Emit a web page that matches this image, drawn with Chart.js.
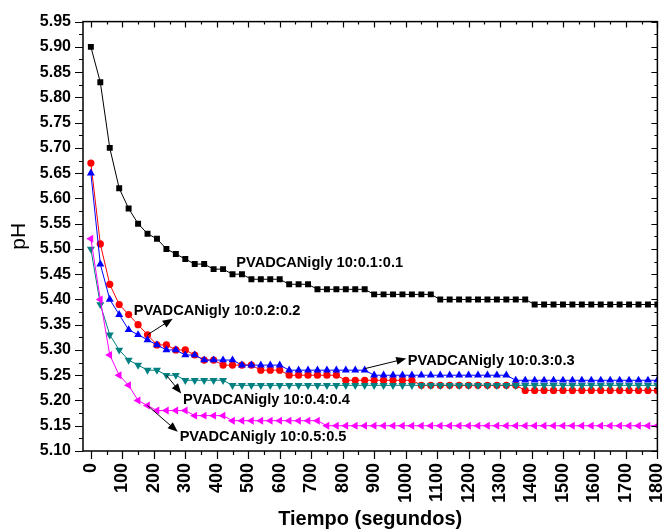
<!DOCTYPE html>
<html>
<head>
<meta charset="utf-8">
<script src="https://cdn.jsdelivr.net/npm/chart.js@4.4.1/dist/chart.umd.min.js"></script>
<style>
  html, body { margin: 0; padding: 0; background: #fff; }
  #wrap { width: 662px; height: 531px; }
</style>
</head>
<body>
<div id="wrap"><canvas id="chart" width="662" height="531"></canvas></div>
<script>
// time axis (seconds), one reading every 30 s
const times = [0, 30, 60, 90, 120, 150, 180, 210, 240, 270, 300, 330, 360, 390, 420, 450, 480, 510, 540, 570,
  600, 630, 660, 690, 720, 750, 780, 810, 840, 870, 900, 930, 960, 990, 1020, 1050, 1080, 1110, 1140, 1170,
  1200, 1230, 1260, 1290, 1320, 1350, 1380, 1410, 1440, 1470, 1500, 1530, 1560, 1590, 1620, 1650, 1680, 1710,
  1740, 1770, 1800];

// pH readings
const ph01 = [5.90, 5.83, 5.70, 5.62, 5.58, 5.55, 5.53, 5.52, 5.50, 5.49, 5.48, 5.47, 5.47, 5.46, 5.46, 5.45, 5.45,
  5.44, 5.44, 5.44, 5.44, 5.43, 5.43, 5.43, 5.42, 5.42, 5.42, 5.42, 5.42, 5.42, 5.41, 5.41, 5.41, 5.41, 5.41,
  5.41, 5.41, 5.40, 5.40, 5.40, 5.40, 5.40, 5.40, 5.40, 5.40, 5.40, 5.40, 5.39, 5.39, 5.39, 5.39, 5.39, 5.39,
  5.39, 5.39, 5.39, 5.39, 5.39, 5.39, 5.39, 5.39];
const ph02 = [5.67, 5.51, 5.43, 5.39, 5.37, 5.35, 5.33, 5.31, 5.31, 5.30, 5.30, 5.29, 5.28, 5.28, 5.27, 5.27, 5.27,
  5.27, 5.26, 5.26, 5.26, 5.25, 5.25, 5.25, 5.25, 5.25, 5.25, 5.24, 5.24, 5.24, 5.24, 5.24, 5.24, 5.24, 5.24,
  5.23, 5.23, 5.23, 5.23, 5.23, 5.23, 5.23, 5.23, 5.23, 5.23, 5.23, 5.22, 5.22, 5.22, 5.22, 5.22, 5.22, 5.22,
  5.22, 5.22, 5.22, 5.22, 5.22, 5.22, 5.22, 5.22];
const ph03 = [5.65, 5.47, 5.40, 5.37, 5.34, 5.33, 5.32, 5.31, 5.30, 5.30, 5.29, 5.29, 5.28, 5.28, 5.28, 5.28, 5.27,
  5.27, 5.27, 5.27, 5.27, 5.26, 5.26, 5.26, 5.26, 5.26, 5.26, 5.26, 5.26, 5.26, 5.25, 5.25, 5.25, 5.25, 5.25,
  5.25, 5.25, 5.25, 5.25, 5.25, 5.25, 5.25, 5.25, 5.25, 5.25, 5.24, 5.24, 5.24, 5.24, 5.24, 5.24, 5.24, 5.24,
  5.24, 5.24, 5.24, 5.24, 5.24, 5.24, 5.24, 5.24];
const ph04 = [5.50, 5.39, 5.33, 5.30, 5.28, 5.27, 5.26, 5.26, 5.25, 5.25, 5.24, 5.24, 5.24, 5.24, 5.24, 5.23, 5.23,
  5.23, 5.23, 5.23, 5.23, 5.23, 5.23, 5.23, 5.23, 5.23, 5.23, 5.23, 5.23, 5.23, 5.23, 5.23, 5.23, 5.23, 5.23,
  5.23, 5.23, 5.23, 5.23, 5.23, 5.23, 5.23, 5.23, 5.23, 5.23, 5.23, 5.23, 5.23, 5.23, 5.23, 5.23, 5.23, 5.23,
  5.23, 5.23, 5.23, 5.23, 5.23, 5.23, 5.23, 5.23];
const ph05 = [5.52, 5.40, 5.29, 5.25, 5.23, 5.20, 5.19, 5.18, 5.18, 5.18, 5.18, 5.17, 5.17, 5.17, 5.17, 5.16, 5.16,
  5.16, 5.16, 5.16, 5.16, 5.16, 5.16, 5.16, 5.16, 5.15, 5.15, 5.15, 5.15, 5.15, 5.15, 5.15, 5.15, 5.15, 5.15,
  5.15, 5.15, 5.15, 5.15, 5.15, 5.15, 5.15, 5.15, 5.15, 5.15, 5.15, 5.15, 5.15, 5.15, 5.15, 5.15, 5.15, 5.15,
  5.15, 5.15, 5.15, 5.15, 5.15, 5.15, 5.15, 5.15];

const seriesNames = ['PVADCANigly 10:0.1:0.1', 'PVADCANigly 10:0.2:0.2', 'PVADCANigly 10:0.3:0.3',
  'PVADCANigly 10:0.4:0.4', 'PVADCANigly 10:0.5:0.5'];

// tick labels
const xTicks = [0, 100, 200, 300, 400, 500, 600, 700, 800, 900, 1000, 1100, 1200, 1300, 1400, 1500, 1600, 1700, 1800];
const yTicks = [5.10, 5.15, 5.20, 5.25, 5.30, 5.35, 5.40, 5.45, 5.50, 5.55, 5.60, 5.65, 5.70, 5.75, 5.80, 5.85, 5.90, 5.95];

const FONT = "'Liberation Sans', Arial, sans-serif";

// labels inside the plot, placed in data units; arrow goes from a point to the label
const notes = [
  { text: seriesNames[0], at: [462, 5.472] },
  { text: seriesNames[1], at: [136, 5.378], from: [180, 5.33], to: [260, 5.362] },
  { text: seriesNames[2], at: [1007, 5.279], from: [870, 5.263], to: [1002, 5.283] },
  { text: seriesNames[3], at: [293, 5.202], from: [240, 5.25], to: [287, 5.214] },
  { text: seriesNames[4], at: [282, 5.128], from: [180, 5.19], to: [276, 5.138] }
];

function pts(vals) {
  return times.map((t, i) => ({ x: t, y: vals[i] }));
}

const frameAndTicks = {
  id: 'frameAndTicks',
  afterDraw(chart) {
    const { ctx, chartArea: a, scales: { x, y } } = chart;
    ctx.save();
    ctx.strokeStyle = '#000';
    ctx.lineWidth = 1.5;
    ctx.strokeRect(a.left, a.top, a.right - a.left, a.bottom - a.top);
    ctx.lineWidth = 1.2;
    ctx.beginPath();
    // x ticks: majors every 100, minors every 50
    for (let v = 0; v <= 1800; v += 50) {
      const px = Math.round(x.getPixelForValue(v)) + 0.5;
      const major = v % 100 === 0;
      ctx.moveTo(px, a.bottom); ctx.lineTo(px, a.bottom + (major ? 8 : 4));
      ctx.moveTo(px, a.top); ctx.lineTo(px, a.top + (major ? 6 : 3));
    }
    // y ticks: majors every 0.05, minors every 0.025
    for (let i = 0; i <= 34; i++) {
      const py = Math.round(y.getPixelForValue(5.10 + i * 0.025)) + 0.5;
      const major = i % 2 === 0;
      ctx.moveTo(a.left, py); ctx.lineTo(a.left - (major ? 8 : 4), py);
      ctx.moveTo(a.right, py); ctx.lineTo(a.right - (major ? 6 : 3), py);
    }
    ctx.stroke();
    ctx.restore();
  },
  afterDatasetsDraw(chart) {
    const { ctx, scales: { x, y } } = chart;
    ctx.save();
    ctx.fillStyle = '#000';
    ctx.strokeStyle = '#000';
    ctx.font = 'bold 14.6px ' + FONT;
    ctx.textBaseline = 'middle';
    ctx.textAlign = 'left';
    notes.forEach(n => {
      ctx.fillText(n.text, x.getPixelForValue(n.at[0]), y.getPixelForValue(n.at[1]));
      if (!n.from) return;
      const x0 = x.getPixelForValue(n.from[0]), y0 = y.getPixelForValue(n.from[1]);
      const x1 = x.getPixelForValue(n.to[0]), y1 = y.getPixelForValue(n.to[1]);
      const ang = Math.atan2(y1 - y0, x1 - x0);
      ctx.lineWidth = 1;
      ctx.beginPath();
      ctx.moveTo(x0, y0);
      ctx.lineTo(x1 - 6 * Math.cos(ang), y1 - 6 * Math.sin(ang));
      ctx.stroke();
      ctx.beginPath();
      ctx.moveTo(x1, y1);
      ctx.lineTo(x1 - 10 * Math.cos(ang) + 4 * Math.sin(ang), y1 - 10 * Math.sin(ang) - 4 * Math.cos(ang));
      ctx.lineTo(x1 - 10 * Math.cos(ang) - 4 * Math.sin(ang), y1 - 10 * Math.sin(ang) + 4 * Math.cos(ang));
      ctx.closePath();
      ctx.fill();
    });
    ctx.restore();
  }
};

const ctx = document.getElementById('chart').getContext('2d');
new Chart(ctx, {
  type: 'line',
  data: {
    datasets: [
      { label: seriesNames[0], data: pts(ph01), borderColor: '#000000', backgroundColor: '#000000',
        pointStyle: 'rect', pointRadius: 4.2, order: 5 },
      { label: seriesNames[1], data: pts(ph02), borderColor: '#ff0000', backgroundColor: '#ff0000',
        pointStyle: 'circle', pointRadius: 3.6, order: 4 },
      { label: seriesNames[2], data: pts(ph03), borderColor: '#0000ff', backgroundColor: '#0000ff',
        pointStyle: 'triangle', pointRadius: 4.6, order: 3 },
      { label: seriesNames[3], data: pts(ph04), borderColor: '#008080', backgroundColor: '#008080',
        pointStyle: 'triangle', pointRotation: 180, pointRadius: 4.6, order: 2 },
      { label: seriesNames[4], data: pts(ph05), borderColor: '#ff00ff', backgroundColor: '#ff00ff',
        pointStyle: 'triangle', pointRotation: 270, pointRadius: 4.6, order: 1 }
    ]
  },
  options: {
    responsive: false,
    devicePixelRatio: 1,
    animation: false,
    layout: { padding: { left: 0, right: 4, top: 19, bottom: 0 } },
    elements: {
      line: { borderWidth: 1, tension: 0 },
      point: { borderWidth: 0, hoverRadius: 4 }
    },
    plugins: { legend: { display: false }, tooltip: { enabled: false } },
    scales: {
      x: {
        type: 'linear', min: -25, max: 1800,
        afterBuildTicks: s => { s.ticks = xTicks.map(v => ({ value: v })); },
        afterFit: s => { s.height = 80; s.paddingLeft = 0; s.paddingRight = 0; },
        grid: { display: false, drawTicks: false },
        border: { display: false },
        ticks: {
          autoSkip: false, minRotation: 90, maxRotation: 90, padding: 12, color: '#000',
          font: { family: FONT, size: 18, weight: 'bold' },
          callback: v => String(v)
        },
        title: {
          display: true, text: 'Tiempo (segundos)', color: '#000',
          font: { family: FONT, size: 20, weight: 'bold', lineHeight: 1.2 },
          padding: { top: 0, bottom: 0 }
        }
      },
      y: {
        type: 'linear', min: 5.10, max: 5.95,
        afterBuildTicks: s => { s.ticks = yTicks.map(v => ({ value: v })); },
        afterFit: s => { s.width = 83; },
        grid: { display: false, drawTicks: false },
        border: { display: false },
        ticks: {
          autoSkip: false, padding: 12, color: '#000',
          font: { family: FONT, size: 16, weight: 'bold' },
          callback: v => Number(v).toFixed(2)
        },
        title: {
          display: true, text: 'pH', color: '#000',
          font: { family: FONT, size: 21, weight: 'normal', lineHeight: 1.2 },
          padding: { top: 7, bottom: 0 }
        }
      }
    }
  },
  plugins: [frameAndTicks]
});
</script>
</body>
</html>
